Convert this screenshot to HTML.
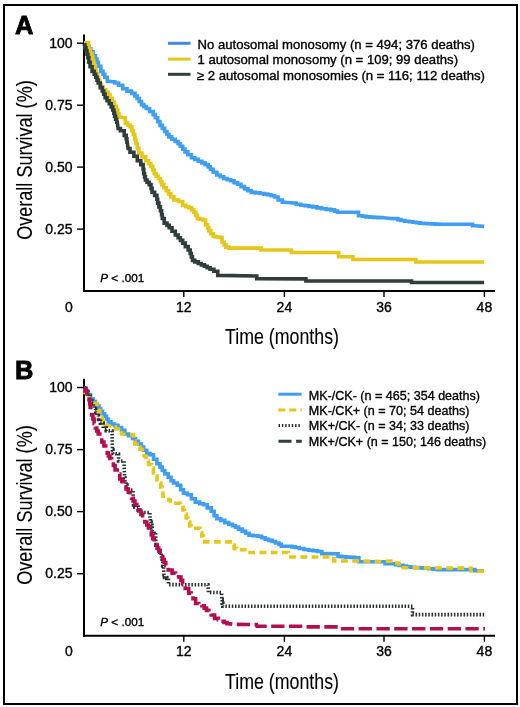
<!DOCTYPE html>
<html><head><meta charset="utf-8"><style>
html,body{margin:0;padding:0;background:#fff;}
svg{display:block;will-change:transform;}
text{font-family:"Liberation Sans",sans-serif;fill:#000;stroke:#000;stroke-width:0.35px;}
.tk{font-size:14px;}
.lg{font-size:13px;}
.ttl{font-size:21.5px;stroke-width:0.1px;}
.pl{font-size:11.7px;}
.pn{font-size:25.5px;font-weight:bold;stroke-width:0.8px;}
</style></head><body>
<svg width="520" height="707" viewBox="0 0 520 707">
<rect x="0" y="0" width="520" height="707" fill="#fff"/>
<rect x="4" y="5" width="513" height="699" fill="none" stroke="#000" stroke-width="2"/>
<!-- Panel A -->
<text x="15" y="33.6" class="pn">A</text>
<line x1="84" y1="34.5" x2="84" y2="292.0" stroke="#000" stroke-width="2"/>
<line x1="83" y1="291.0" x2="495" y2="291.0" stroke="#000" stroke-width="2"/>
<line x1="77" y1="43.2" x2="84" y2="43.2" stroke="#000" stroke-width="1.4"/>
<text x="72.5" y="47.9" text-anchor="end" class="tk">100</text>
<line x1="77" y1="105.2" x2="84" y2="105.2" stroke="#000" stroke-width="1.4"/>
<text x="72.5" y="109.9" text-anchor="end" class="tk">0.75</text>
<line x1="77" y1="167.1" x2="84" y2="167.1" stroke="#000" stroke-width="1.4"/>
<text x="72.5" y="171.8" text-anchor="end" class="tk">0.50</text>
<line x1="77" y1="229.1" x2="84" y2="229.1" stroke="#000" stroke-width="1.4"/>
<text x="72.5" y="233.8" text-anchor="end" class="tk">0.25</text>
<line x1="183.8" y1="291.0" x2="183.8" y2="297.0" stroke="#000" stroke-width="1.4"/>
<text x="183.8" y="312.0" text-anchor="middle" class="tk">12</text>
<line x1="284.4" y1="291.0" x2="284.4" y2="297.0" stroke="#000" stroke-width="1.4"/>
<text x="284.4" y="312.0" text-anchor="middle" class="tk">24</text>
<line x1="384" y1="291.0" x2="384" y2="297.0" stroke="#000" stroke-width="1.4"/>
<text x="384" y="312.0" text-anchor="middle" class="tk">36</text>
<line x1="484.4" y1="291.0" x2="484.4" y2="297.0" stroke="#000" stroke-width="1.4"/>
<text x="484.4" y="312.0" text-anchor="middle" class="tk">48</text>
<text x="69" y="312.0" text-anchor="middle" class="tk">0</text>
<text x="0" y="0" class="ttl" transform="translate(32,239.8) rotate(-90)" textLength="159.5" lengthAdjust="spacingAndGlyphs">Overall Survival (%)</text>
<text x="225" y="343.9" class="ttl" textLength="114" lengthAdjust="spacingAndGlyphs">Time (months)</text>
<text x="100.3" y="281.6" class="pl"><tspan font-style="italic">P</tspan> &lt; .001</text>
<g fill="none" stroke-width="3.6" stroke-linejoin="miter" stroke-linecap="butt">
<polyline points="84.0,44.0 86.0,44.0 86.0,46.0 88.0,46.0 89.0,46.0 89.0,48.9 90.8,48.9 90.8,51.8 91.8,51.8 93.2,51.8 93.2,55.9 94.7,55.9 95.4,55.9 95.4,59.0 96.9,59.0 96.9,62.2 97.6,62.2 98.4,62.2 98.4,66.3 99.3,66.3 100.8,66.3 100.8,71.4 102.2,71.4 103.0,71.4 103.0,74.3 104.8,74.3 104.8,77.2 105.6,77.2 107.3,77.2 107.3,81.3 109.1,81.3 113.1,81.8 114.8,81.8 114.8,83.0 116.6,83.0 118.6,83.0 118.6,85.3 120.6,85.3 122.7,85.3 122.7,88.7 124.7,88.7 127.0,88.7 127.0,91.1 129.3,91.1 131.6,91.1 131.6,93.4 133.9,93.4 134.9,93.4 134.9,96.0 137.1,96.0 137.1,98.5 138.1,98.5 139.2,98.5 139.2,101.5 141.5,101.5 141.5,104.6 142.7,104.6 143.8,104.6 143.8,106.5 146.2,106.5 146.2,108.5 147.3,108.5 149.6,108.5 149.6,111.5 151.9,111.5 153.1,111.5 153.1,114.6 155.3,114.6 155.3,117.7 156.5,117.7 157.7,117.7 157.7,121.6 160.0,121.6 160.0,125.4 161.2,125.4 162.3,125.4 162.3,128.4 164.7,128.4 164.7,131.5 165.8,131.5 166.9,131.5 166.9,134.2 168.9,134.2 168.9,136.9 170.0,136.9 171.7,136.9 171.7,139.2 175.2,139.2 175.2,141.5 176.9,141.5 178.1,141.5 178.1,143.8 180.3,143.8 180.3,146.2 181.5,146.2 182.7,146.2 182.7,149.1 185.0,149.1 185.0,151.9 186.2,151.9 187.9,151.9 187.9,154.8 191.4,154.8 191.4,157.7 193.1,157.7 194.8,157.7 194.8,159.4 198.3,159.4 198.3,161.2 200.0,161.2 201.8,161.2 201.8,162.9 205.2,162.9 205.2,164.6 207.0,164.6 208.2,164.6 208.2,166.9 210.4,166.9 210.4,169.3 211.6,169.3 213.3,169.3 213.3,172.2 216.8,172.2 216.8,175.0 218.5,175.0 220.2,175.0 220.2,176.8 223.7,176.8 223.7,178.5 225.4,178.5 227.2,178.5 227.2,179.7 230.7,179.7 230.7,180.8 232.4,180.8 234.1,180.8 234.1,182.6 237.6,182.6 237.6,184.3 239.3,184.3 241.0,184.3 241.0,186.6 244.5,186.6 244.5,188.9 246.2,188.9 247.9,188.9 247.9,190.7 251.4,190.7 251.4,192.4 253.1,192.4 255.4,192.4 255.4,192.9 260.1,192.9 260.1,193.5 262.4,193.5 264.1,193.5 264.1,194.1 267.6,194.1 267.6,194.7 269.3,194.7 271.0,194.7 271.0,195.8 274.5,195.8 274.5,197.0 276.2,197.0 278.1,197.0 278.1,200.0 280.0,200.0 282.3,200.0 282.3,202.3 284.6,202.3 293.9,203.0 296.2,203.0 296.2,204.2 300.8,204.2 300.8,205.3 303.1,205.3 305.0,205.3 305.0,205.8 308.9,205.8 308.9,206.4 312.7,206.4 312.7,206.9 314.6,206.9 316.9,206.9 316.9,207.9 321.6,207.9 321.6,208.8 323.9,208.8 326.2,208.8 326.2,209.4 330.8,209.4 330.8,209.9 333.1,209.9 334.6,209.9 334.6,211.1 337.4,211.1 337.4,212.3 338.9,212.3 356.2,212.3 358.5,212.3 358.5,215.7 360.8,215.7 362.6,215.7 362.6,216.3 366.1,216.3 366.1,216.9 367.8,216.9 369.8,216.9 369.8,217.1 373.8,217.1 373.8,217.4 377.9,217.4 377.9,217.6 381.9,217.6 381.9,217.8 383.9,217.8 390.9,218.5 396.3,218.6 397.9,218.6 397.9,219.6 401.1,219.6 401.1,220.5 402.7,220.5 404.8,220.5 404.8,221.2 409.0,221.2 409.0,221.8 411.1,221.8 412.9,221.8 412.9,222.3 416.4,222.3 416.4,222.8 419.9,222.8 419.9,223.3 421.7,223.3 423.6,223.3 423.6,223.5 427.4,223.5 427.4,223.7 431.2,223.7 431.2,223.9 435.0,223.9 435.0,224.1 438.8,224.1 438.8,224.3 440.7,224.3 470.3,224.3 472.5,224.3 472.5,225.8 474.6,225.8 484.1,226.4" stroke="#3f9ef2"/>
<polyline points="84.0,43.0 88.5,42.5 88.7,49.0 90.1,49.0 90.1,53.3 91.5,53.3 92.0,53.3 92.0,56.8 92.8,56.8 92.8,60.2 93.3,60.2 93.7,60.2 93.7,63.6 94.5,63.6 94.5,66.9 95.4,66.9 95.4,70.3 95.8,70.3 96.4,70.3 96.4,73.8 97.5,73.8 97.5,77.2 98.1,77.2 98.7,77.2 98.7,80.7 99.9,80.7 99.9,84.1 100.5,84.1 101.3,84.1 101.3,87.0 103.1,87.0 103.1,89.9 103.9,89.9 105.7,89.9 105.7,92.2 107.4,92.2 108.1,92.2 108.1,94.6 108.8,94.6 110.0,94.6 110.0,98.4 112.3,98.4 112.3,102.3 113.5,102.3 114.5,102.3 114.5,106.2 116.3,106.2 116.3,110.0 117.3,110.0 117.9,110.0 117.9,113.5 119.0,113.5 119.0,116.9 119.6,116.9 124.2,117.7 125.3,117.7 125.3,123.1 126.5,123.1 127.7,123.1 127.7,125.0 130.0,125.0 130.0,126.9 131.2,126.9 131.9,126.9 131.9,130.8 133.4,130.8 133.4,134.6 134.2,134.6 134.8,134.6 134.8,139.2 135.9,139.2 135.9,143.8 136.5,143.8 137.3,143.8 137.3,148.4 138.8,148.4 138.8,153.1 139.6,153.1 141.9,153.1 141.9,156.9 144.2,156.9 145.8,156.9 145.8,160.8 147.3,160.8 148.5,160.8 148.5,163.5 150.8,163.5 150.8,166.2 151.9,166.2 152.7,166.2 152.7,170.0 154.2,170.0 154.2,173.8 155.0,173.8 156.2,173.8 156.2,176.2 158.4,176.2 158.4,178.5 159.6,178.5 160.4,178.5 160.4,181.6 161.9,181.6 161.9,184.6 162.7,184.6 163.8,184.6 163.8,187.7 166.2,187.7 166.2,190.8 167.3,190.8 168.5,190.8 168.5,193.9 170.8,193.9 170.8,196.9 171.9,196.9 173.9,196.9 173.9,200.0 175.8,200.0 178.5,200.0 178.5,201.5 181.2,201.5 182.7,201.5 182.7,205.4 184.2,205.4 185.8,205.4 185.8,206.6 188.8,206.6 188.8,207.7 190.4,207.7 191.6,207.7 191.6,210.0 193.8,210.0 193.8,212.3 195.0,212.3 195.8,212.3 195.8,215.4 197.3,215.4 197.3,218.5 198.1,218.5 199.6,218.5 199.6,219.2 202.7,219.2 202.7,220.0 204.2,220.0 205.6,220.0 205.6,225.0 207.0,225.0 207.7,225.0 207.7,227.9 208.9,227.9 208.9,230.8 209.6,230.8 210.8,230.8 210.8,233.7 213.2,233.7 213.2,236.5 214.4,236.5 216.1,236.5 216.1,237.0 219.5,237.0 219.5,237.5 221.2,237.5 222.1,237.5 222.1,242.3 223.1,242.3 224.1,242.3 224.1,244.7 225.9,244.7 225.9,247.1 226.9,247.1 228.9,247.1 228.9,248.1 230.8,248.1 259.6,248.1 261.1,248.1 261.1,250.0 262.5,250.0 290.4,250.0 291.4,250.0 291.4,252.5 292.3,252.5 336.5,252.5 338.6,252.5 338.6,256.7 340.7,256.7 352.4,256.7 352.9,256.7 352.9,259.5 353.4,259.5 415.4,259.5 415.9,259.5 415.9,262.0 416.4,262.0 484.1,262.0" stroke="#e6c619"/>
<polyline points="84.0,44.0 84.3,44.9 84.9,44.9 84.9,47.8 86.0,47.8 86.0,50.7 86.6,50.7 87.0,50.7 87.0,54.2 87.9,54.2 87.9,57.6 88.3,57.6 88.9,57.6 88.9,62.2 90.1,62.2 90.1,66.8 90.7,66.8 92.1,66.8 92.1,71.4 93.5,71.4 94.2,71.4 94.2,74.3 95.7,74.3 95.7,77.2 96.4,77.2 97.0,77.2 97.0,80.1 98.1,80.1 98.1,83.0 98.7,83.0 100.2,83.0 100.2,87.6 101.6,87.6 102.3,87.6 102.3,91.0 103.7,91.0 103.7,94.3 105.1,94.3 105.1,97.7 105.8,97.7 107.0,97.7 107.0,100.8 109.2,100.8 109.2,103.8 110.4,103.8 111.2,103.8 111.2,106.9 112.7,106.9 112.7,110.0 113.5,110.0 113.9,110.0 113.9,113.1 114.6,113.1 114.6,116.2 115.0,116.2 115.6,116.2 115.6,119.2 116.7,119.2 116.7,122.3 117.3,122.3 118.1,128.5 120.4,128.5 120.4,130.8 122.7,130.8 124.2,130.8 124.2,135.4 125.8,135.4 126.2,135.4 126.2,138.9 126.9,138.9 126.9,142.3 127.3,142.3 128.1,148.5 130.0,148.5 130.0,152.3 131.9,152.3 133.9,152.3 133.9,156.2 135.8,156.2 137.3,156.2 137.3,160.8 138.8,160.8 140.8,160.8 140.8,164.6 142.7,164.6 143.1,164.6 143.1,169.2 143.8,169.2 143.8,173.8 144.2,173.8 144.6,173.8 144.6,176.9 145.4,176.9 145.4,180.0 145.8,180.0 147.0,180.0 147.0,182.3 149.2,182.3 149.2,184.6 150.4,184.6 151.0,184.6 151.0,188.4 152.1,188.4 152.1,192.3 152.7,192.3 154.6,192.3 154.6,195.4 156.5,195.4 156.9,195.4 156.9,199.2 157.7,199.2 157.7,203.1 158.1,203.1 158.9,203.1 158.9,206.9 160.4,206.9 160.4,210.8 161.2,210.8 161.6,210.8 161.6,214.7 162.3,214.7 162.3,218.5 162.7,218.5 164.2,218.5 164.2,223.1 165.8,223.1 167.0,223.1 167.0,225.4 169.2,225.4 169.2,227.7 170.4,227.7 172.0,227.7 172.0,231.3 175.3,231.3 175.3,235.0 176.9,235.0 178.1,235.0 178.1,237.7 180.4,237.7 180.4,240.4 182.7,240.4 182.7,243.1 183.9,243.1 185.3,243.1 185.3,246.6 188.2,246.6 188.2,250.0 189.6,250.0 190.2,250.0 190.2,253.5 191.3,253.5 191.3,256.9 192.5,256.9 192.5,260.4 193.1,260.4 194.8,260.4 194.8,261.9 198.3,261.9 198.3,263.5 200.0,263.5 201.4,263.5 201.4,264.9 204.4,264.9 204.4,266.3 205.8,266.3 207.2,266.3 207.2,267.8 210.1,267.8 210.1,269.2 211.5,269.2 213.9,269.2 213.9,271.2 216.3,271.2 217.8,271.2 217.8,275.4 219.2,275.4 255.8,276.0 256.8,276.0 256.8,278.8 257.7,278.8 304.8,278.9 305.9,278.9 305.9,281.0 306.9,281.0 411.1,281.0 411.6,281.0 411.6,282.5 412.2,282.5 484.1,282.5" stroke="#2f3d3d"/>
</g>
<g stroke-width="3">
<line x1="168" y1="43.3" x2="190.5" y2="43.3" stroke="#3d8ce3"/>
<line x1="168" y1="59.1" x2="190.5" y2="59.1" stroke="#e6c619"/>
<line x1="168" y1="74.3" x2="190.5" y2="74.3" stroke="#2f3d3d"/>
</g>
<text x="197.5" y="48.9" class="lg" textLength="277.5" lengthAdjust="spacingAndGlyphs">No autosomal monosomy (n = 494; 376 deaths)</text>
<text x="197.5" y="64.4" class="lg" textLength="260.5" lengthAdjust="spacingAndGlyphs">1 autosomal monosomy (n = 109; 99 deaths)</text>
<text x="196.8" y="79.6" class="lg" textLength="288.2" lengthAdjust="spacingAndGlyphs">&#8805; 2 autosomal monosomies (n = 116; 112 deaths)</text>
<!-- Panel B -->
<text x="15" y="378.9" class="pn">B</text>
<line x1="84" y1="378.8" x2="84" y2="636.8" stroke="#000" stroke-width="2"/>
<line x1="83" y1="635.8" x2="495" y2="635.8" stroke="#000" stroke-width="2"/>
<line x1="77" y1="387.5" x2="84" y2="387.5" stroke="#000" stroke-width="1.4"/>
<text x="72.5" y="391.7" text-anchor="end" class="tk">100</text>
<line x1="77" y1="449.6" x2="84" y2="449.6" stroke="#000" stroke-width="1.4"/>
<text x="72.5" y="453.8" text-anchor="end" class="tk">0.75</text>
<line x1="77" y1="511.6" x2="84" y2="511.6" stroke="#000" stroke-width="1.4"/>
<text x="72.5" y="515.9" text-anchor="end" class="tk">0.50</text>
<line x1="77" y1="573.7" x2="84" y2="573.7" stroke="#000" stroke-width="1.4"/>
<text x="72.5" y="577.9" text-anchor="end" class="tk">0.25</text>
<line x1="183.8" y1="635.8" x2="183.8" y2="641.8" stroke="#000" stroke-width="1.4"/>
<text x="183.8" y="656.0" text-anchor="middle" class="tk">12</text>
<line x1="284.4" y1="635.8" x2="284.4" y2="641.8" stroke="#000" stroke-width="1.4"/>
<text x="284.4" y="656.0" text-anchor="middle" class="tk">24</text>
<line x1="384" y1="635.8" x2="384" y2="641.8" stroke="#000" stroke-width="1.4"/>
<text x="384" y="656.0" text-anchor="middle" class="tk">36</text>
<line x1="484.4" y1="635.8" x2="484.4" y2="641.8" stroke="#000" stroke-width="1.4"/>
<text x="484.4" y="656.0" text-anchor="middle" class="tk">48</text>
<text x="69" y="656.0" text-anchor="middle" class="tk">0</text>
<text x="0" y="0" class="ttl" transform="translate(32,584.8) rotate(-90)" textLength="159.5" lengthAdjust="spacingAndGlyphs">Overall Survival (%)</text>
<text x="225" y="688.9" class="ttl" textLength="114" lengthAdjust="spacingAndGlyphs">Time (months)</text>
<text x="100.3" y="626.2" class="pl"><tspan font-style="italic">P</tspan> &lt; .001</text>
<g fill="none" stroke-width="3.6" stroke-linejoin="miter" stroke-linecap="butt">
<polyline points="84.0,388.0 85.1,388.1 86.0,388.1 86.0,391.3 87.8,391.3 87.8,394.5 88.7,394.5 90.5,394.5 90.5,399.0 92.3,399.0 93.3,399.0 93.3,401.5 95.3,401.5 95.3,404.0 96.3,404.0 97.2,404.0 97.2,406.0 98.2,406.0 99.0,406.0 99.0,408.6 100.7,408.6 100.7,411.3 101.5,411.3 102.5,411.3 102.5,413.8 104.6,413.8 104.6,416.2 105.6,416.2 106.5,416.2 106.5,419.0 108.3,419.0 108.3,421.9 109.2,421.9 111.0,421.9 111.0,424.0 112.7,424.0 114.5,424.0 114.5,425.4 116.2,425.4 118.0,425.4 118.0,427.6 119.8,427.6 121.5,427.6 121.5,430.4 123.3,430.4 124.8,430.4 124.8,434.0 126.2,434.0 128.7,434.0 128.7,435.8 131.2,435.8 132.5,435.8 132.5,438.5 133.8,438.5 135.4,438.5 135.4,441.2 138.4,441.2 138.4,444.0 140.0,444.0 141.2,444.0 141.2,447.1 143.8,447.1 143.8,450.2 145.0,450.2 146.7,450.2 146.7,453.6 148.4,453.6 150.1,453.6 150.1,454.8 151.8,454.8 153.5,454.8 153.5,459.2 155.2,459.2 156.9,459.2 156.9,463.8 158.6,463.8 160.0,463.8 160.0,467.1 161.4,467.1 162.2,467.1 162.2,470.5 163.1,470.5 164.8,470.5 164.8,473.9 166.5,473.9 168.2,473.9 168.2,477.3 169.9,477.3 171.0,477.3 171.0,480.7 172.1,480.7 173.6,480.7 173.6,483.0 175.0,483.0 177.2,483.0 177.2,485.2 179.5,485.2 180.7,485.2 180.7,489.7 181.8,489.7 183.5,489.7 183.5,493.1 185.2,493.1 187.4,493.1 187.4,494.8 189.7,494.8 191.4,494.8 191.4,498.8 193.1,498.8 195.3,498.8 195.3,502.1 197.6,502.1 199.8,502.1 199.8,503.8 202.1,503.8 203.6,503.8 203.6,504.8 205.0,504.8 207.2,504.8 207.2,507.9 209.5,507.9 211.2,507.9 211.2,511.3 212.9,511.3 214.1,511.3 214.1,515.8 215.2,515.8 216.9,515.8 216.9,518.7 218.6,518.7 220.8,518.7 220.8,520.4 223.1,520.4 224.8,520.4 224.8,522.6 226.5,522.6 228.8,522.6 228.8,524.3 231.0,524.3 232.5,524.3 232.5,525.7 235.4,525.7 235.4,527.1 236.9,527.1 238.6,527.1 238.6,529.1 242.1,529.1 242.1,531.1 243.8,531.1 245.6,531.1 245.6,533.2 249.1,533.2 249.1,535.2 250.8,535.2 253.1,535.2 253.1,535.8 257.7,535.8 257.7,536.3 260.0,536.3 261.7,536.3 261.7,537.8 265.2,537.8 265.2,539.2 266.9,539.2 268.6,539.2 268.6,540.4 272.1,540.4 272.1,541.5 273.8,541.5 275.5,541.5 275.5,543.0 279.0,543.0 279.0,544.4 280.7,544.4 281.3,544.4 281.3,546.1 281.9,546.1 290.2,546.2 291.9,546.2 291.9,546.9 295.2,546.9 295.2,547.5 296.9,547.5 299.2,547.5 299.2,548.5 303.9,548.5 303.9,549.5 306.3,549.5 308.6,549.5 308.6,550.2 313.1,550.2 313.1,550.8 317.6,550.8 317.6,551.5 319.8,551.5 321.8,551.5 321.8,553.6 323.8,553.6 336.7,553.7 338.0,553.7 338.0,556.4 339.4,556.4 341.6,556.4 341.6,556.8 346.0,556.8 346.0,557.1 350.3,557.1 350.3,557.4 354.7,557.4 354.7,557.8 356.9,557.8 358.9,557.8 358.9,561.8 361.0,561.8 383.8,561.8 385.1,561.8 385.1,563.8 386.5,563.8 393.9,563.8 395.6,563.8 395.6,564.6 399.1,564.6 399.1,565.4 400.8,565.4 402.7,565.4 402.7,566.0 406.6,566.0 406.6,566.7 410.4,566.7 410.4,567.3 412.3,567.3 414.6,567.3 414.6,567.6 419.2,567.6 419.2,567.9 423.9,567.9 423.9,568.2 426.2,568.2 428.5,568.2 428.5,568.7 433.1,568.7 433.1,569.1 437.7,569.1 437.7,569.6 440.0,569.6 472.4,569.6 474.7,569.6 474.7,570.7 477.0,570.7 484.0,570.7" stroke="#3f9ef2"/>
<polyline points="84.0,388.0 85.0,388.0 85.0,392.5 87.0,392.5 87.0,397.0 88.0,397.0 89.2,397.0 89.2,400.0 91.6,400.0 91.6,403.0 92.8,403.0 96.0,403.5 96.8,403.5 96.8,409.0 97.5,409.0 98.3,409.0 98.3,410.5 99.2,410.5 99.8,410.5 99.8,416.0 100.5,416.0 101.1,416.0 101.1,418.0 101.7,418.0 102.2,418.0 102.2,421.4 103.3,421.4 103.3,424.7 103.8,424.7 105.2,424.7 105.2,425.5 106.5,425.5 110.0,426.0 112.0,426.0 112.0,426.8 114.0,426.8 115.5,426.8 115.5,429.0 117.0,429.0 118.5,429.0 118.5,432.5 120.1,432.5 121.5,432.5 121.5,434.0 123.0,434.0 129.2,434.6 133.5,434.6 133.5,441.0 134.8,441.0 134.8,444.0 137.2,444.0 137.2,447.0 138.5,447.0 140.0,447.0 140.0,449.2 141.5,449.2 142.4,449.2 142.4,452.6 144.1,452.6 144.1,456.0 145.0,456.0 146.0,456.0 146.0,461.0 147.0,461.0 148.5,461.0 148.5,464.5 150.0,464.5 151.5,464.5 151.5,468.0 153.0,468.0 153.5,468.0 153.5,473.0 154.0,473.0 155.2,473.0 155.2,476.0 156.5,476.0 157.0,476.0 157.0,480.0 157.5,480.0 158.8,480.0 158.8,483.0 160.0,483.0 160.8,483.0 160.8,487.0 161.5,487.0 162.2,487.0 162.2,491.0 162.8,491.0 163.0,496.0 168.5,496.5 168.7,500.0 170.3,500.0 170.3,503.3 172.0,503.3 178.4,503.3 180.4,503.3 180.4,504.5 182.5,504.5 183.0,504.5 183.0,510.0 183.5,510.0 184.5,510.0 184.5,514.0 185.5,514.0 186.2,514.0 186.2,518.0 187.0,518.0 188.0,518.0 188.0,522.0 189.0,522.0 189.8,522.0 189.8,526.0 190.5,526.0 191.5,526.0 191.5,528.2 192.5,528.2 199.5,528.2 200.0,528.2 200.0,532.7 200.5,532.7 201.8,532.7 201.8,536.0 203.0,536.0 203.5,536.0 203.5,539.5 204.0,539.5 204.8,539.5 204.8,541.9 205.5,541.9 231.6,541.9 232.6,541.9 232.6,545.0 233.5,545.0 234.1,545.0 234.1,548.4 234.6,548.4 236.6,548.4 236.6,549.6 238.7,549.6 246.0,549.8 246.7,549.8 246.7,552.5 247.3,552.5 288.3,552.5 288.8,557.0 333.9,556.9 333.9,561.0 360.0,561.0 384.0,561.5 392.7,561.0 394.4,561.0 394.4,563.0 396.0,563.0 398.5,563.0 398.5,564.0 401.0,564.0 401.4,564.0 401.4,567.7 401.9,567.7 470.0,568.2 471.0,568.2 471.0,571.0 472.0,571.0 484.0,571.2" stroke="#e6c619" stroke-dasharray="6.8 4.4" stroke-dashoffset="9.73"/>
<polyline points="84.0,388.0 85.5,388.0 85.5,389.0 87.0,389.0 88.2,389.0 88.2,394.0 89.5,394.0 90.3,394.0 90.3,398.5 92.0,398.5 92.0,403.0 92.8,403.0 93.3,403.0 93.3,406.0 94.5,406.0 94.5,409.0 95.0,409.0 95.6,409.0 95.6,412.2 96.9,412.2 96.9,415.5 97.5,415.5 98.5,415.5 98.5,419.4 100.4,419.4 100.4,423.3 101.4,423.3 103.2,423.3 103.2,428.0 105.0,428.0 106.2,428.0 106.2,430.7 107.4,430.7 112.0,431.0 112.5,450.0 113.0,450.0 113.0,453.5 113.5,453.5 118.5,454.0 118.5,461.0 124.0,461.0 124.5,478.0 125.0,478.0 125.0,481.5 126.0,481.5 126.0,485.0 126.5,485.0 127.0,485.0 127.0,490.0 127.5,490.0 133.0,490.0 133.5,505.0 134.8,505.0 134.8,507.0 136.0,507.0 138.0,507.0 138.0,510.0 140.0,510.0 142.0,510.0 142.0,512.5 144.0,512.5 150.0,512.5 150.0,519.0 150.4,519.0 150.4,522.0 151.1,522.0 151.1,525.0 151.5,525.0 151.8,525.0 151.8,528.0 152.2,528.0 152.2,531.0 152.5,531.0 154.0,531.0 154.0,533.0 155.5,533.0 156.0,544.0 157.2,544.0 157.2,548.0 159.8,548.0 159.8,552.0 161.0,552.0 161.2,552.0 161.2,556.5 161.8,556.5 161.8,561.0 162.0,561.0 162.8,561.0 162.8,566.0 163.5,566.0 164.0,575.0 164.5,575.0 164.5,577.5 165.0,577.5 166.8,577.5 166.8,578.5 168.5,578.5 168.5,584.6 208.0,584.8 208.5,592.4 221.5,592.5 222.0,600.0 222.2,600.0 222.2,603.1 222.8,603.1 222.8,606.3 223.0,606.3 412.5,606.3 412.5,614.6 485.0,614.6" stroke="#262f2f" stroke-dasharray="1.5 1.7"/>
<polyline points="84.0,388.0 85.0,388.0 85.0,391.0 87.0,391.0 87.0,394.0 88.0,394.0 88.4,394.0 88.4,397.0 89.1,397.0 89.1,400.0 89.5,400.0 89.8,400.0 89.8,403.7 90.2,403.7 90.2,407.3 90.8,407.3 90.8,411.0 91.0,411.0 91.6,411.0 91.6,415.0 92.9,415.0 92.9,419.0 93.5,419.0 94.1,419.0 94.1,423.5 95.4,423.5 95.4,428.0 96.0,428.0 96.8,428.0 96.8,431.0 98.2,431.0 98.2,434.0 99.8,434.0 99.8,437.0 100.5,437.0 101.8,437.0 101.8,442.0 103.0,442.0 103.9,442.0 103.9,446.0 105.7,446.0 105.7,450.0 106.6,450.0 107.2,450.0 107.2,453.0 108.4,453.0 108.4,456.0 109.0,456.0 109.9,456.0 109.9,458.5 111.6,458.5 111.6,461.0 112.5,461.0 113.4,461.0 113.4,465.5 115.1,465.5 115.1,470.0 116.0,470.0 117.2,470.0 117.2,474.0 118.5,474.0 119.8,474.0 119.8,479.0 121.0,479.0 121.9,479.0 121.9,481.8 123.7,481.8 123.7,484.6 124.6,484.6 126.0,484.6 126.0,489.0 127.5,489.0 128.3,489.0 128.3,492.2 130.0,492.2 130.0,495.4 130.8,495.4 131.6,495.4 131.6,498.2 133.2,498.2 133.2,501.0 134.0,501.0 134.9,501.0 134.9,504.5 136.8,504.5 136.8,508.0 137.7,508.0 138.8,508.0 138.8,511.0 140.0,511.0 140.9,511.0 140.9,514.5 142.6,514.5 142.6,518.0 143.5,518.0 144.8,518.0 144.8,522.0 146.0,522.0 146.8,522.0 146.8,525.0 148.4,525.0 148.4,528.0 149.2,528.0 149.9,528.0 149.9,531.5 151.3,531.5 151.3,535.0 152.0,535.0 152.8,535.0 152.8,538.6 154.2,538.6 154.2,542.3 155.0,542.3 155.8,542.3 155.8,545.1 157.2,545.1 157.2,548.0 158.0,548.0 158.7,548.0 158.7,550.9 160.1,550.9 160.1,553.8 160.8,553.8 161.5,553.8 161.5,556.6 162.8,556.6 162.8,559.5 163.5,559.5 164.2,559.5 164.2,562.5 165.8,562.5 165.8,565.4 166.5,565.4 168.2,565.4 168.2,570.0 170.0,570.0 172.1,570.0 172.1,573.1 174.2,573.1 175.6,573.1 175.6,575.0 178.6,575.0 178.6,577.0 180.0,577.0 180.9,577.0 180.9,580.4 182.6,580.4 182.6,583.8 183.5,583.8 185.2,583.8 185.2,588.5 186.9,588.5 188.7,588.5 188.7,593.1 190.4,593.1 191.2,593.1 191.2,596.0 193.0,596.0 193.0,598.8 193.8,598.8 195.6,598.8 195.6,603.5 197.3,603.5 198.8,603.5 198.8,604.6 201.7,604.6 201.7,605.8 203.1,605.8 204.2,605.8 204.2,608.1 206.5,608.1 206.5,610.4 207.7,610.4 208.8,610.4 208.8,612.7 211.2,612.7 211.2,615.0 212.3,615.0 214.6,615.0 214.6,618.4 216.9,618.4 218.3,618.4 218.3,619.8 221.2,619.8 221.2,621.3 222.7,621.3 224.1,621.3 224.1,622.5 227.0,622.5 227.0,623.6 228.4,623.6 234.2,624.4 256.5,624.6 257.0,626.2 304.0,626.2 305.0,626.9 339.0,626.9 339.7,628.8 485.0,628.8" stroke="#b20e50" stroke-dasharray="13.3 4.5" stroke-dashoffset="3.17"/>
</g>
<g stroke-width="3">
<line x1="278.3" y1="394.2" x2="301.6" y2="394.2" stroke="#3f9ef2"/>
<line x1="278.3" y1="409.9" x2="301.6" y2="409.9" stroke="#e6c619" stroke-dasharray="7 4"/>
<line x1="278.6" y1="425.4" x2="300" y2="425.4" stroke="#222" stroke-dasharray="1.4 1.9"/>
<line x1="278.5" y1="441.3" x2="301.8" y2="441.3" stroke="#2f3d3d" stroke-dasharray="13 4.6"/>
</g>
<text x="308.8" y="399.6" class="lg" textLength="171.2" lengthAdjust="spacingAndGlyphs">MK-/CK- (n = 465; 354 deaths)</text>
<text x="308.8" y="415" class="lg" textLength="160.7" lengthAdjust="spacingAndGlyphs">MK-/CK+ (n = 70; 54 deaths)</text>
<text x="308.8" y="430.4" class="lg" textLength="160.7" lengthAdjust="spacingAndGlyphs">MK+/CK- (n = 34; 33 deaths)</text>
<text x="308.8" y="445.8" class="lg" textLength="177.4" lengthAdjust="spacingAndGlyphs">MK+/CK+ (n = 150; 146 deaths)</text>
</svg>
</body></html>
